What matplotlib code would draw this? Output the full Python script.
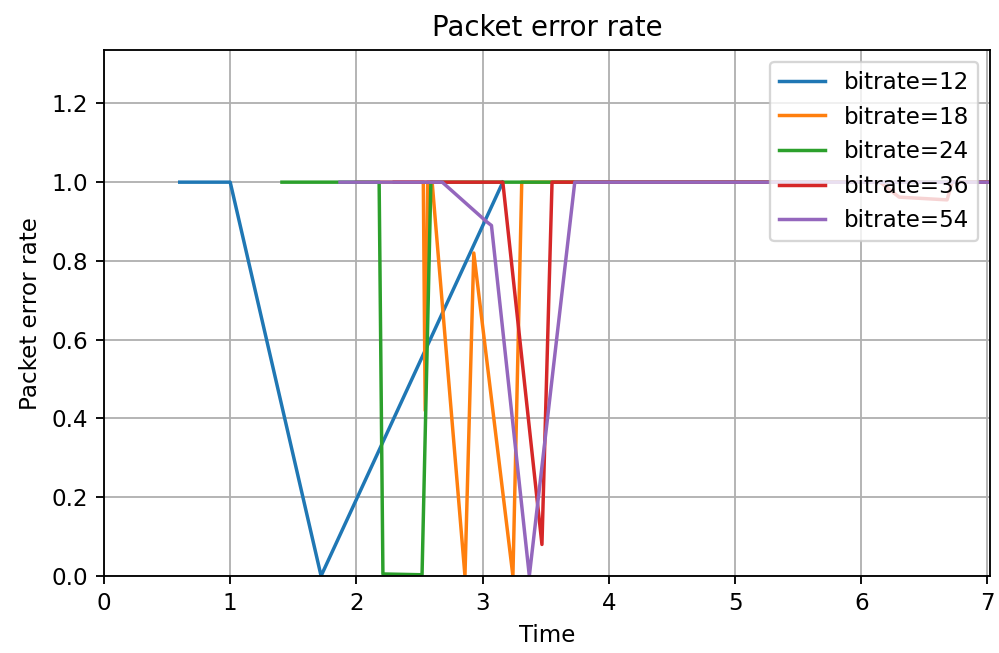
import matplotlib
matplotlib.use("Agg")
import matplotlib.pyplot as plt

# (time, packet error rate)
t12 = [0.60, 1.00, 1.72, 3.16]
per12 = [1.0, 1.0, 0.0, 1.0]

t18 = [2.00, 2.53, 2.545, 2.565, 2.60, 2.86, 2.93, 3.24, 3.31, 7.0]
per18 = [1.0, 1.0, 0.42, 1.0, 1.0, 0.0, 0.82, 0.0, 1.0, 1.0]

t24 = [1.41, 2.18, 2.21, 2.52, 2.59, 7.0]
per24 = [1.0, 1.0, 0.005, 0.003, 1.0, 1.0]

t36 = [2.30, 3.16, 3.47, 3.55, 6.15, 6.30, 6.68, 6.72, 7.0]
per36 = [1.0, 1.0, 0.08, 1.0, 1.0, 0.962, 0.955, 1.0, 1.0]

t54 = [1.87, 2.68, 3.03, 3.07, 3.37, 3.73, 7.0]
per54 = [1.0, 1.0, 0.90, 0.89, 0.0, 1.0, 1.0]

series = [("bitrate=12", t12, per12), ("bitrate=18", t18, per18),
          ("bitrate=24", t24, per24), ("bitrate=36", t36, per36),
          ("bitrate=54", t54, per54)]

fig, ax = plt.subplots(figsize=(6.024, 3.934), dpi=166)
fig.subplots_adjust(left=0.104, right=0.99, top=0.923, bottom=0.118)
for label, t, per in series:
    ax.plot(t, per, label=label)
ax.set_xlim(0, 7.02)
ax.set_ylim(0, 1.335)
ax.set_title("Packet error rate")
ax.set_xlabel("Time")
ax.set_ylabel("Packet error rate")
ax.grid(True)
ax.legend(loc="upper right")
fig.savefig("out.png", dpi=166)
